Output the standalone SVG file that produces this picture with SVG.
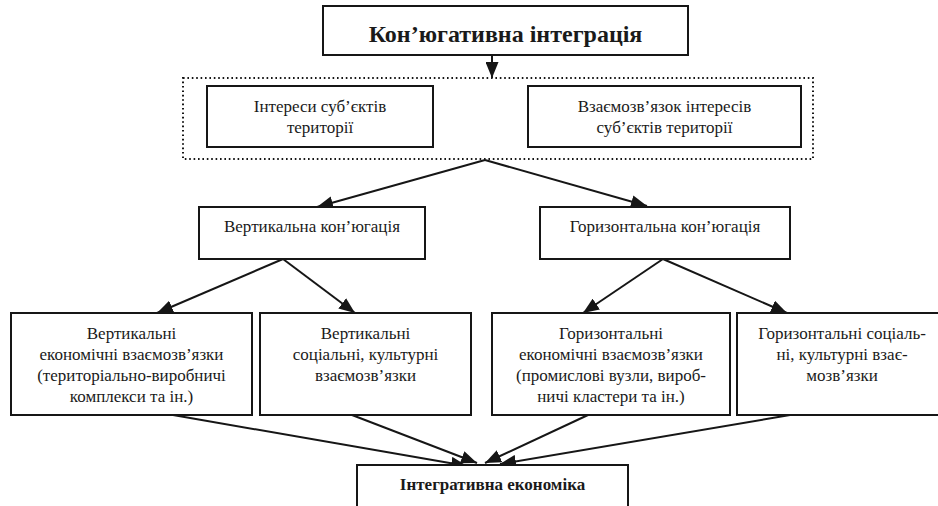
<svg xmlns="http://www.w3.org/2000/svg" width="938" height="506" viewBox="0 0 938 506">
<defs>
<style>
.box{fill:#fff;stroke:#161616;stroke-width:2}
.t{font-family:"Liberation Serif","Times New Roman",serif;font-size:17px;fill:#1a1a1a;text-anchor:middle}
.b{font-weight:bold}
.big{font-size:24px}
.c{fill:none;stroke:#161616;stroke-width:2}
</style>
<marker id="ah" markerUnits="userSpaceOnUse" markerWidth="16" markerHeight="13" viewBox="0 0 16 13" refX="16" refY="6.5" orient="auto">
<path d="M0,0 L16,6.5 L0,13 z" fill="#161616"/>
</marker>
</defs>
<rect width="938" height="506" fill="#fff"/>

<g id="connectors">
<line class="c" x1="492" y1="55" x2="492" y2="78" marker-end="url(#ah)"/>
<line class="c" x1="485" y1="160" x2="317" y2="207" marker-end="url(#ah)"/>
<line class="c" x1="485" y1="160" x2="647" y2="206" marker-end="url(#ah)"/>
<line class="c" x1="283" y1="259" x2="157" y2="313" marker-end="url(#ah)"/>
<line class="c" x1="283" y1="259" x2="355" y2="313" marker-end="url(#ah)"/>
<line class="c" x1="663" y1="259" x2="583" y2="313" marker-end="url(#ah)"/>
<line class="c" x1="663" y1="259" x2="787" y2="313" marker-end="url(#ah)"/>
<line class="c" x1="173" y1="415" x2="467" y2="466" marker-end="url(#ah)"/>
<line class="c" x1="352" y1="415" x2="477" y2="463" marker-end="url(#ah)"/>
<line class="c" x1="588" y1="415" x2="485" y2="463" marker-end="url(#ah)"/>
<line class="c" x1="790" y1="415" x2="500" y2="464" marker-end="url(#ah)"/>
</g>

<g id="title">
<rect class="box" x="323" y="6" width="365" height="49" stroke-width="2.5"/>
<text class="t b big" x="505.5" y="42">Кон’югативна інтеграція</text>
</g>

<g id="group-interests">
<rect x="183" y="78" width="630" height="81" fill="none" stroke="#161616" stroke-width="2" stroke-dasharray="1.6 2.8"/>
</g>

<g id="interests">
<rect class="box" x="207" y="86" width="226" height="61"/>
<text class="t" x="320" y="112">Інтереси суб’єктів</text>
<text class="t" x="320" y="133">території</text>
</g>

<g id="relation">
<rect class="box" x="528" y="86" width="273" height="61"/>
<text class="t" x="664.5" y="112">Взаємозв’язок інтересів</text>
<text class="t" x="664.5" y="133">суб’єктів території</text>
</g>

<g id="vertical">
<rect class="box" x="199" y="207" width="226" height="52"/>
<text class="t" x="312" y="232">Вертикальна кон’югація</text>
</g>

<g id="horizontal">
<rect class="box" x="540" y="207" width="250" height="52"/>
<text class="t" x="665" y="232">Горизонтальна кон’югація</text>
</g>

<g id="vert-econ">
<rect class="box" x="11" y="313" width="241" height="102"/>
<text class="t" x="131.5" y="339">Вертикальні</text>
<text class="t" x="131.5" y="360">економічні взаємозв’язки</text>
<text class="t" x="131.5" y="381">(територіально-виробничі</text>
<text class="t" x="131.5" y="402">комплекси та ін.)</text>
</g>

<g id="vert-social">
<rect class="box" x="260" y="313" width="211" height="102"/>
<text class="t" x="365.5" y="339">Вертикальні</text>
<text class="t" x="365.5" y="360">соціальні, культурні</text>
<text class="t" x="365.5" y="381">взаємозв’язки</text>
</g>

<g id="hor-econ">
<rect class="box" x="492" y="313" width="238" height="102"/>
<text class="t" x="611" y="339">Горизонтальні</text>
<text class="t" x="611" y="360">економічні взаємозв’язки</text>
<text class="t" x="611" y="381">(промислові вузли, вироб-</text>
<text class="t" x="611" y="402">ничі кластери та ін.)</text>
</g>

<g id="hor-social">
<rect class="box" x="737" y="313" width="212" height="102"/>
<text class="t" x="842" y="339">Горизонтальні соціаль-</text>
<text class="t" x="842" y="360">ні, культурні взає-</text>
<text class="t" x="842" y="381">мозв’язки</text>
</g>

<g id="integrative">
<rect class="box" x="357" y="465" width="271" height="50"/>
<text class="t b" x="492.5" y="490">Інтегративна економіка</text>
</g>
</svg>
